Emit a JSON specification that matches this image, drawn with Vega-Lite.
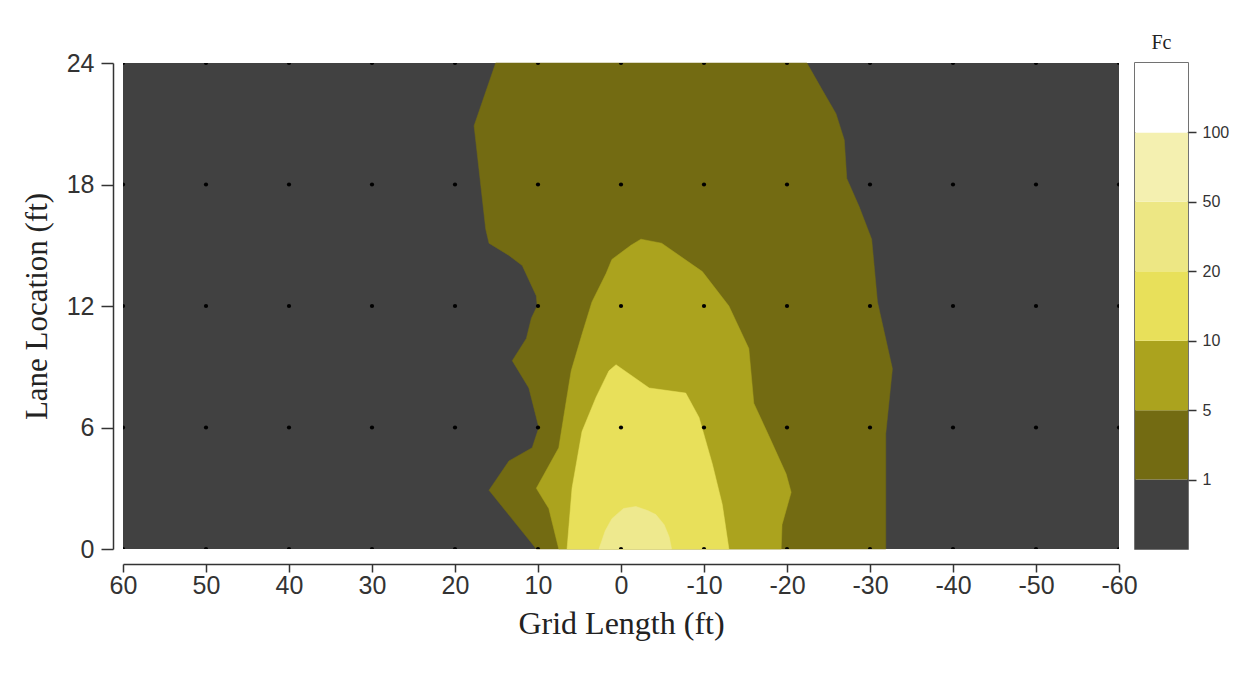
{
  "$schema": "https://vega.github.io/schema/vega-lite/v6.json",
  "background": "white",
  "padding": {"left": 21, "top": 32, "right": 5, "bottom": 5},
  "bounds": "flush",
  "spacing": 16,
  "datasets": {
    "contours": [
      {"level": 1, "ord": 1, "x": 15.1, "y": 24},
      {"level": 1, "ord": 2, "x": -22.4, "y": 24},
      {"level": 1, "ord": 3, "x": -24.2, "y": 22.7},
      {"level": 1, "ord": 4, "x": -25.9, "y": 21.5},
      {"level": 1, "ord": 5, "x": -26.9, "y": 20.2},
      {"level": 1, "ord": 6, "x": -27.2, "y": 18.3},
      {"level": 1, "ord": 7, "x": -28.7, "y": 16.9},
      {"level": 1, "ord": 8, "x": -30.2, "y": 15.3},
      {"level": 1, "ord": 9, "x": -30.9, "y": 12.2},
      {"level": 1, "ord": 10, "x": -32.7, "y": 8.9},
      {"level": 1, "ord": 11, "x": -31.9, "y": 5.7},
      {"level": 1, "ord": 12, "x": -31.9, "y": 0},
      {"level": 1, "ord": 13, "x": 10.2, "y": 0},
      {"level": 1, "ord": 14, "x": 15.9, "y": 2.9},
      {"level": 1, "ord": 15, "x": 13.5, "y": 4.35},
      {"level": 1, "ord": 16, "x": 10.7, "y": 5.0},
      {"level": 1, "ord": 17, "x": 9.9, "y": 6.0},
      {"level": 1, "ord": 18, "x": 11.1, "y": 7.95},
      {"level": 1, "ord": 19, "x": 13.1, "y": 9.3},
      {"level": 1, "ord": 20, "x": 11.4, "y": 10.4},
      {"level": 1, "ord": 21, "x": 10.8, "y": 11.4},
      {"level": 1, "ord": 22, "x": 10.1, "y": 12.0},
      {"level": 1, "ord": 23, "x": 10.2, "y": 12.5},
      {"level": 1, "ord": 24, "x": 11.9, "y": 14.0},
      {"level": 1, "ord": 25, "x": 13.5, "y": 14.5},
      {"level": 1, "ord": 26, "x": 15.9, "y": 15.1},
      {"level": 1, "ord": 27, "x": 16.3, "y": 15.8},
      {"level": 1, "ord": 28, "x": 17.7, "y": 20.9},
      {"level": 5, "ord": 1, "x": -2.4, "y": 15.3},
      {"level": 5, "ord": 2, "x": -4.9, "y": 15.1},
      {"level": 5, "ord": 3, "x": -9.8, "y": 13.7},
      {"level": 5, "ord": 4, "x": -13.0, "y": 12.0},
      {"level": 5, "ord": 5, "x": -15.4, "y": 9.9},
      {"level": 5, "ord": 6, "x": -16.0, "y": 7.2},
      {"level": 5, "ord": 7, "x": -17.8, "y": 5.6},
      {"level": 5, "ord": 8, "x": -19.9, "y": 3.7},
      {"level": 5, "ord": 9, "x": -20.5, "y": 2.8},
      {"level": 5, "ord": 10, "x": -19.4, "y": 1.2},
      {"level": 5, "ord": 11, "x": -19.3, "y": 0},
      {"level": 5, "ord": 12, "x": 7.5, "y": 0},
      {"level": 5, "ord": 13, "x": 8.7, "y": 2.0},
      {"level": 5, "ord": 14, "x": 10.2, "y": 3.0},
      {"level": 5, "ord": 15, "x": 7.5, "y": 5.0},
      {"level": 5, "ord": 16, "x": 6.6, "y": 7.3},
      {"level": 5, "ord": 17, "x": 6.0, "y": 8.8},
      {"level": 5, "ord": 18, "x": 4.7, "y": 10.6},
      {"level": 5, "ord": 19, "x": 3.5, "y": 12.2},
      {"level": 5, "ord": 20, "x": 1.8, "y": 13.6},
      {"level": 5, "ord": 21, "x": 1.1, "y": 14.3},
      {"level": 5, "ord": 22, "x": -1.2, "y": 15.0},
      {"level": 10, "ord": 1, "x": 0.6, "y": 9.1},
      {"level": 10, "ord": 2, "x": -3.4, "y": 7.95},
      {"level": 10, "ord": 3, "x": -7.8, "y": 7.7},
      {"level": 10, "ord": 4, "x": -9.4, "y": 6.5},
      {"level": 10, "ord": 5, "x": -11.0, "y": 4.2},
      {"level": 10, "ord": 6, "x": -12.2, "y": 2.2},
      {"level": 10, "ord": 7, "x": -13.0, "y": 0},
      {"level": 10, "ord": 8, "x": 6.5, "y": 0},
      {"level": 10, "ord": 9, "x": 5.9, "y": 3.0},
      {"level": 10, "ord": 10, "x": 4.7, "y": 5.8},
      {"level": 10, "ord": 11, "x": 3.0, "y": 7.5},
      {"level": 10, "ord": 12, "x": 1.45, "y": 8.8},
      {"level": 20, "ord": 1, "x": 2.65, "y": 0},
      {"level": 20, "ord": 2, "x": 1.9, "y": 0.9},
      {"level": 20, "ord": 3, "x": 1.1, "y": 1.5},
      {"level": 20, "ord": 4, "x": -0.3, "y": 2.0},
      {"level": 20, "ord": 5, "x": -1.8, "y": 2.1},
      {"level": 20, "ord": 6, "x": -3.2, "y": 1.9},
      {"level": 20, "ord": 7, "x": -4.2, "y": 1.7},
      {"level": 20, "ord": 8, "x": -5.2, "y": 1.2},
      {"level": 20, "ord": 9, "x": -5.8, "y": 0.6},
      {"level": 20, "ord": 10, "x": -6.1, "y": 0}
    ],
    "dots": [
      {"x": 60, "y": 0}, {"x": 60, "y": 6}, {"x": 60, "y": 12}, {"x": 60, "y": 18}, {"x": 60, "y": 24},
      {"x": 50, "y": 0}, {"x": 50, "y": 6}, {"x": 50, "y": 12}, {"x": 50, "y": 18}, {"x": 50, "y": 24},
      {"x": 40, "y": 0}, {"x": 40, "y": 6}, {"x": 40, "y": 12}, {"x": 40, "y": 18}, {"x": 40, "y": 24},
      {"x": 30, "y": 0}, {"x": 30, "y": 6}, {"x": 30, "y": 12}, {"x": 30, "y": 18}, {"x": 30, "y": 24},
      {"x": 20, "y": 0}, {"x": 20, "y": 6}, {"x": 20, "y": 12}, {"x": 20, "y": 18}, {"x": 20, "y": 24},
      {"x": 10, "y": 0}, {"x": 10, "y": 6}, {"x": 10, "y": 12}, {"x": 10, "y": 18}, {"x": 10, "y": 24},
      {"x": 0, "y": 0}, {"x": 0, "y": 6}, {"x": 0, "y": 12}, {"x": 0, "y": 18}, {"x": 0, "y": 24},
      {"x": -10, "y": 0}, {"x": -10, "y": 6}, {"x": -10, "y": 12}, {"x": -10, "y": 18}, {"x": -10, "y": 24},
      {"x": -20, "y": 0}, {"x": -20, "y": 6}, {"x": -20, "y": 12}, {"x": -20, "y": 18}, {"x": -20, "y": 24},
      {"x": -30, "y": 0}, {"x": -30, "y": 6}, {"x": -30, "y": 12}, {"x": -30, "y": 18}, {"x": -30, "y": 24},
      {"x": -40, "y": 0}, {"x": -40, "y": 6}, {"x": -40, "y": 12}, {"x": -40, "y": 18}, {"x": -40, "y": 24},
      {"x": -50, "y": 0}, {"x": -50, "y": 6}, {"x": -50, "y": 12}, {"x": -50, "y": 18}, {"x": -50, "y": 24},
      {"x": -60, "y": 0}, {"x": -60, "y": 6}, {"x": -60, "y": 12}, {"x": -60, "y": 18}, {"x": -60, "y": 24}
    ],
    "bands": [
      {"band": "<1", "lo": 0, "hi": 1},
      {"band": "1-5", "lo": 1, "hi": 2},
      {"band": "5-10", "lo": 2, "hi": 3},
      {"band": "10-20", "lo": 3, "hi": 4},
      {"band": "20-50", "lo": 4, "hi": 5},
      {"band": "50-100", "lo": 5, "hi": 6},
      {"band": ">100", "lo": 6, "hi": 7}
    ]
  },
  "hconcat": [
    {
      "width": 996,
      "height": 486,
      "view": {"fill": "#414141", "stroke": null},
      "encoding": {
        "x": {
          "field": "x", "type": "quantitative",
          "scale": {"domain": [60, -60], "nice": false, "zero": false},
          "axis": {
            "title": "Grid Length (ft)",
            "values": [60, 50, 40, 30, 20, 10, 0, -10, -20, -30, -40, -50, -60],
            "labelExpr": "datum.value < 0 ? '-' + abs(datum.value) : '' + datum.value",
            "offset": 15, "tickSize": 8, "tickWidth": 1.5, "domainWidth": 1.5,
            "domainColor": "#333", "tickColor": "#333", "grid": false,
            "labelFont": "Liberation Sans", "labelFontSize": 25, "labelColor": "#333", "labelPadding": 1,
            "labelFlush": false,
            "titleFont": "Liberation Serif", "titleFontSize": 32, "titleFontWeight": "normal",
            "titleColor": "#222", "titlePadding": 10
          }
        },
        "y": {
          "field": "y", "type": "quantitative",
          "scale": {"domain": [0, 24], "nice": false, "zero": false},
          "axis": {
            "title": "Lane Location (ft)",
            "values": [0, 6, 12, 18, 24],
            "offset": 10, "tickSize": 12, "tickWidth": 1.5, "domainWidth": 1.5,
            "domainColor": "#333", "tickColor": "#333", "grid": false,
            "labelFont": "Liberation Sans", "labelFontSize": 25, "labelColor": "#333", "labelPadding": 7,
            "labelFlush": false,
            "titleFont": "Liberation Serif", "titleFontSize": 31, "titleFontWeight": "normal",
            "titleColor": "#222", "titlePadding": 13
          }
        }
      },
      "layer": [
        {
          "data": {"name": "contours"},
          "transform": [{"filter": "datum.level == 1"}],
          "mark": {"type": "line", "interpolate": "linear-closed", "fill": "#736b12", "stroke": "#736b12", "strokeWidth": 0.5},
          "encoding": {"order": {"field": "ord", "type": "quantitative"}}
        },
        {
          "data": {"name": "contours"},
          "transform": [{"filter": "datum.level == 5"}],
          "mark": {"type": "line", "interpolate": "linear-closed", "fill": "#aba31e", "stroke": "#aba31e", "strokeWidth": 0.5},
          "encoding": {"order": {"field": "ord", "type": "quantitative"}}
        },
        {
          "data": {"name": "contours"},
          "transform": [{"filter": "datum.level == 10"}],
          "mark": {"type": "line", "interpolate": "linear-closed", "fill": "#e8e05a", "stroke": "#e8e05a", "strokeWidth": 0.5},
          "encoding": {"order": {"field": "ord", "type": "quantitative"}}
        },
        {
          "data": {"name": "contours"},
          "transform": [{"filter": "datum.level == 20"}],
          "mark": {"type": "line", "interpolate": "linear-closed", "fill": "#eee98e", "stroke": "#eee98e", "strokeWidth": 0.5},
          "encoding": {"order": {"field": "ord", "type": "quantitative"}}
        },
        {
          "data": {"name": "dots"},
          "mark": {"type": "circle", "size": 18, "color": "#000", "opacity": 1, "clip": true}
        }
      ]
    },
    {
      "width": 53,
      "height": 486,
      "title": {"text": "Fc", "font": "Liberation Serif", "fontSize": 20, "fontWeight": "normal", "color": "#222", "offset": 10},
      "view": {"stroke": "#444", "strokeWidth": 1.5, "fill": null},
      "data": {"name": "bands"},
      "mark": {"type": "rect"},
      "encoding": {
        "y": {
          "field": "lo", "type": "quantitative",
          "scale": {"domain": [0, 7], "nice": false, "zero": false},
          "axis": {
            "orient": "right", "title": null, "values": [1, 2, 3, 4, 5, 6],
            "labelExpr": "['', '1', '5', '10', '20', '50', '100'][datum.value]",
            "domain": false, "grid": false, "tickSize": 8, "tickWidth": 1.5, "tickColor": "#333",
            "labelFont": "Liberation Sans", "labelFontSize": 16, "labelColor": "#333", "labelPadding": 6
          }
        },
        "y2": {"field": "hi"},
        "fill": {
          "field": "band", "type": "nominal", "legend": null,
          "scale": {
            "domain": ["<1", "1-5", "5-10", "10-20", "20-50", "50-100", ">100"],
            "range": ["#414141", "#736b12", "#aba31e", "#e8e05a", "#ede784", "#f4f0b0", "#ffffff"]
          }
        }
      }
    }
  ]
}
